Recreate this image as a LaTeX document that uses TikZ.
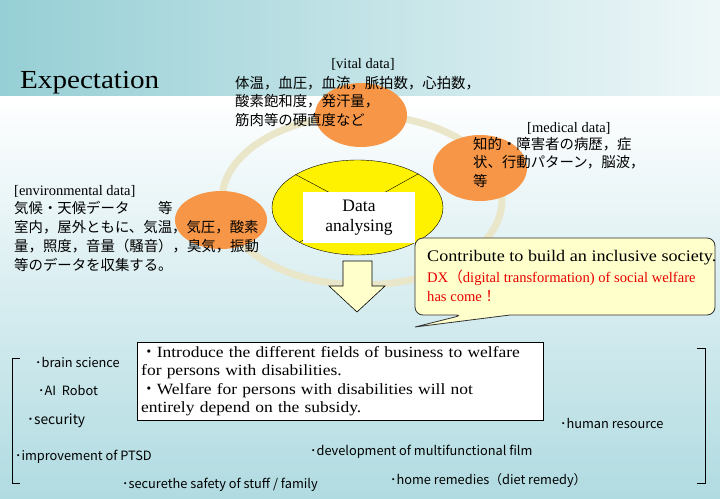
\documentclass[tikz,border=0pt]{standalone}
\usepackage{fontspec}
\setmainfont{Liberation Serif}
\newfontfamily\widerm[FakeStretch=1.12]{Liberation Serif}
\newfontfamily\jp{Noto Sans CJK JP}
\usetikzlibrary{shapes.geometric}

\definecolor{bandteal}{RGB}{150,207,213}
\definecolor{bandpale}{RGB}{238,247,248}
\definecolor{floorteal}{RGB}{176,219,225}
\definecolor{floormid}{RGB}{212,236,239}
\definecolor{ringcream}{RGB}{234,230,202}
\definecolor{orangebub}{RGB}{247,150,70}
\definecolor{paleyellow}{RGB}{255,255,204}
\definecolor{dxred}{RGB}{232,0,0}

\tikzset{
  bubble/.style={ellipse, fill=orangebub, inner sep=0pt},
  tagtext/.style={font=\fontsize{14.5}{17}\selectfont, inner sep=0pt},
  jptext/.style={font=\jp\fontsize{14.4}{18.6}\selectfont, align=left, anchor=north west, inner sep=0pt},
  fielditem/.style={font=\jp\fontsize{12.8}{14}\selectfont, anchor=base west, inner sep=0pt},
}

\begin{document}
\begin{tikzpicture}[x=1pt, y=-1pt]
    \useasboundingbox (0,0) rectangle (720,498);

    % background
    \shade[top color=white, middle color=floormid, bottom color=floorteal] (0,96) rectangle (720,498);
    \shade[left color=bandteal, right color=bandpale] (0,0) rectangle (720,95);

    \node[font=\widerm\fontsize{26}{30}\selectfont, anchor=base west, inner sep=0pt] (title) at (20,88) {Expectation};

    % data ring
    \draw[ringcream, line width=7pt] (362,200) ellipse [x radius=140, y radius=85];

    \node[bubble, minimum width=92, minimum height=64] (vital) at (361,115) {};
    \node[bubble, minimum width=94, minimum height=66] (medical) at (480,168) {};
    \node[bubble, minimum width=92, minimum height=58] (environ) at (221,220) {};

    \node[ellipse, draw=black, fill=yellow, minimum width=171, minimum height=95, inner sep=0pt] (core) at (357.5,207.5) {};
    \draw (core.center) -- (core.152);
    \draw (core.center) -- (core.29);
    \draw (core.center) -- (core.211);
    \node[fill=white, minimum width=112, minimum height=51, align=center, font=\fontsize{17.5}{20}\selectfont] (analysis) at (359,217.5) {Data\\analysing};

    % texts round the ring
    \node[tagtext, anchor=base] (vitaltag) at (363,68) {[vital data]};
    \node[jptext] (vitaltext) at (235,76) {体温，血圧，血流，脈拍数，心拍数，\\酸素飽和度，発汗量，\\筋肉等の硬直度など};

    \node[tagtext, anchor=base west] (medicaltag) at (527,132) {[medical data]};
    \node[jptext] (medicaltext) at (473,137) {知的・障害者の病歴，症\\状、行動パターン，脳波，\\等};

    \node[tagtext, anchor=base west] (environtag) at (14,195) {[environmental data]};
    \node[jptext, font=\jp\fontsize{14.4}{19}\selectfont] (environtext) at (14,201) {気候・天候データ　　等\\室内，屋外ともに、気温，気圧，酸素\\量，照度，音量（騒音），臭気，振動\\等のデータを収集する。};

    % down arrow
    \draw[fill=paleyellow, line width=0.6pt] (343,261) -- (372,261) -- (372,286) -- (385,286) -- (357,312) -- (329,286) -- (343,286) -- cycle;

    % callout
    \draw[fill=paleyellow, draw={rgb,255:red,50;green,50;blue,50}, line width=0.8pt]
        (415,327) -- (510,315) [rounded corners=8pt] -- (715,315) -- (715,238) -- (415,238) -- (415,315) -- (463,315) [sharp corners] -- cycle;
    \node[font=\widerm\fontsize{16.2}{19}\selectfont, anchor=base west, inner sep=0pt] (goal) at (427,261) {Contribute to build an inclusive society.};
    \node[font=\fontsize{14.6}{19}\selectfont, text=dxred, align=left, anchor=north west, inner sep=0pt] (dx) at (427,270) {DX{\jp （}digital transformation) of social welfare\\has come{\jp ！}};

    % summary box
    \node[draw, fill=white, anchor=north west, minimum width=406, minimum height=78, text width=398, inner xsep=4pt, inner ysep=0pt, align=left, font=\widerm\fontsize{15.6}{18.5}\selectfont] (summary) at (137,342)
        {{\jp ・}Introduce the different fields of business to welfare\\for persons with disabilities.\\{\jp ・}Welfare for persons with disabilities will not\\entirely depend on the subsidy.};

    % fields
    \draw (20,358) -- (12,358) -- (12,483) -- (20,483);
    \draw (697,348) -- (705,348) -- (705,483) -- (697,483);
    \node[fielditem] (brain) at (35,367) {･brain science};
    \node[fielditem] (robot) at (38,395) {･AI\ \ Robot};
    \node[fielditem, font=\jp\fontsize{13.8}{15}\selectfont] (security) at (27,424) {･security};
    \node[fielditem] (ptsd) at (15,460) {･improvement of PTSD};
    \node[fielditem] (safety) at (122,488) {･securethe safety of stuff / family};
    \node[fielditem] (film) at (310,455) {･development of multifunctional film};
    \node[fielditem] (remedy) at (390,484) {･home remedies（diet remedy）};
    \node[fielditem] (human) at (560,428) {･human resource};
\end{tikzpicture}
\end{document}
